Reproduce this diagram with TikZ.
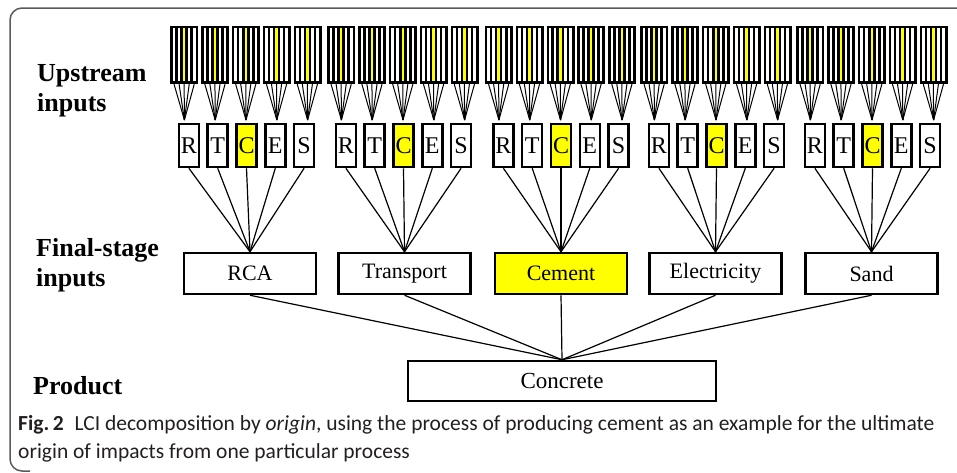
\documentclass[tikz,border=0pt]{standalone}
\usepackage{fontspec}
\setmainfont{Liberation Serif}
\newfontfamily\capfont{Carlito}
\usetikzlibrary{calc}
\definecolor{hl}{RGB}{255,255,0}
\definecolor{framegray}{RGB}{90,90,90}
\definecolor{captext}{RGB}{35,31,32}
\begin{document}
\begin{tikzpicture}[x=1pt,y=-1pt,
  stripbox/.style={draw=none, fill=black, minimum width=28pt, minimum height=58pt, inner sep=0pt},
  letterbox/.style={draw, line width=2.5pt, minimum width=20pt, minimum height=43pt, inner sep=0pt, font=\fontsize{24}{26}\selectfont},
  finalbox/.style={draw, line width=2.5pt, minimum width=132pt, minimum height=41pt, inner sep=0pt, font=\fontsize{22}{24}\selectfont},
  link/.style={line width=1.2pt},
  fanline/.style={line width=1pt},
  rowlabel/.style={font=\fontsize{26}{30}\selectfont\bfseries, align=left, anchor=west, inner sep=0pt},
  captionline/.style={font=\capfont\fontsize{21.5}{24}\selectfont, text=captext, anchor=west, inner sep=0pt}]
\useasboundingbox (0,0) rectangle (957,472);
% frame
\draw[framegray, line width=1.5pt, rounded corners=12pt] (957,8) -- (10,8) -- (10,471) -- (30,471);
% row labels
\node[rowlabel] (lab-up) at (37,91) {Upstream\\inputs};
\node[rowlabel] (lab-final) at (36,265) {Final-stage\\inputs};
\node[rowlabel] (lab-prod) at (33,386) {Product};
% product
\node[finalbox, minimum width=308pt, minimum height=40pt, font=\fontsize{23}{25}\selectfont] (conc) at (562,381) {Concrete};
% groups
\foreach \g/\gx/\fx/\fname/\ffill in {0/246/250/RCA/white, 1/403/404.5/Transport/white, 2/560.5/561/Cement/hl, 3/716/715.5/Electricity/white, 4/872/871.5/Sand/white}{
  \node[finalbox, fill=\ffill] (f\g) at (\fx,273.5) {\fname};
  \draw[link] (f\g.south) -- (conc.north);
  \foreach \k/\lt in {0/R,1/T,2/C,3/E,4/S}{
    \ifnum\k=2 \def\lfill{hl}\else\def\lfill{white}\fi
    \node[stripbox] (s\g\k) at ({\gx+(\k-2)*30.8},55) {};
    \foreach \m in {0,...,4}{
      \ifnum\m=2 \def\mfill{hl}\else\def\mfill{white}\fi
      \fill[\mfill] ($(s\g\k.north west)+({2.6+\m*5.05},2.6)$) rectangle ++(2.5,52.8);
    }
    \coordinate (a\g\k) at ({\gx+(\k-2)*30.8},120);
    \foreach \m in {0,...,4}{
      \draw[fanline] ($(s\g\k.south west)+({3.85+\m*5.05},0)$) -- (a\g\k);
    }
    \node[letterbox, fill=\lfill] (l\g\k) at ({\gx+0.5+(\k-2)*28.8},145.5) {\lt};
    \draw[link] (l\g\k.south) -- (f\g.north);
  }
}
% caption
\node[captionline] (cap1) at (18,425) {\textbf{Fig.\,2}\enspace LCI decomposition by \textit{origin}, using the process of producing cement as an example for the ultimate};
\node[captionline] (cap2) at (18,453) {origin of impacts from one particular process};
\end{tikzpicture}
\end{document}
